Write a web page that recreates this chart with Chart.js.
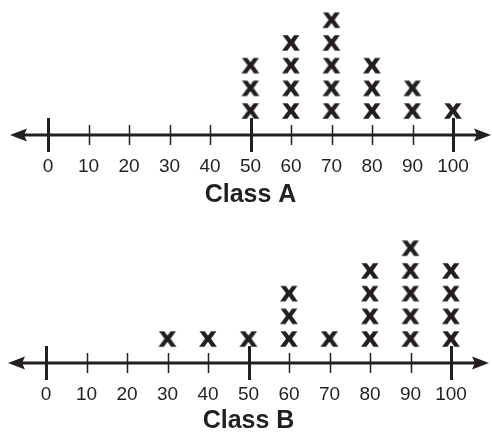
<!DOCTYPE html>
<html>
<head>
<meta charset="utf-8">
<script src="https://cdn.jsdelivr.net/npm/chart.js@4.4.1/dist/chart.umd.min.js"></script>
<style>
  html, body { margin: 0; padding: 0; background: #fff; }
  canvas { display: block; }
</style>
</head>
<body>
<canvas id="chartA" width="492" height="216"></canvas>
<canvas id="chartB" width="492" height="216"></canvas>
<script>
// tick labels on the number line
const scoreTicks = [0, 10, 20, 30, 40, 50, 60, 70, 80, 90, 100];
const majorTicks = [0, 50, 100];

// Class A: score -> number of X marks
const classAScores = [50, 60, 70, 80, 90, 100];
const classACounts = [3, 4, 5, 3, 2, 1];

// Class B
const classBScores = [30, 40, 50, 60, 70, 80, 90, 100];
const classBCounts = [1, 1, 1, 3, 1, 4, 5, 4];

const INK = '#231f20';
const ROW = 22.7; // px between stacked marks

// the "X" mark used as point style
const xMark = document.createElement('canvas');
xMark.width = 24;
xMark.height = 24;
(function() {
  const c = xMark.getContext('2d');
  c.fillStyle = INK;
  c.strokeStyle = INK;
  c.lineWidth = 1.4;
  c.lineJoin = 'miter';
  c.font = 'bold 21px "Liberation Sans", Arial, sans-serif';
  c.textAlign = 'center';
  c.textBaseline = 'alphabetic';
  c.translate(12, 0);
  c.scale(1.1, 1);
  c.fillText('X', 0, 19.5);
  c.strokeText('X', 0, 19.5);
})();

// stack one point per student
function buildPoints(scores, counts) {
  const pts = [];
  scores.forEach((s, i) => {
    for (let k = 1; k <= counts[i]; k++) pts.push({ x: s, y: k });
  });
  return pts;
}

// number line: axis with arrows and ticks crossing it
const numberLine = {
  id: 'numberLine',
  beforeDatasetsDraw(chart) {
    const ctx = chart.ctx;
    const xs = chart.scales.x;
    const y = chart.chartArea.bottom;
    const left = xs.getPixelForValue(0) - 38;
    const right = xs.getPixelForValue(100) + 38;
    ctx.save();
    ctx.strokeStyle = INK;
    ctx.fillStyle = INK;
    ctx.lineWidth = 3;
    ctx.beginPath();
    ctx.moveTo(left + 10, y);
    ctx.lineTo(right - 10, y);
    ctx.stroke();
    // arrow heads
    ctx.beginPath();
    ctx.moveTo(left, y);
    ctx.lineTo(left + 17, y - 6.5);
    ctx.lineTo(left + 14, y);
    ctx.lineTo(left + 17, y + 6.5);
    ctx.closePath();
    ctx.fill();
    ctx.beginPath();
    ctx.moveTo(right, y);
    ctx.lineTo(right - 17, y - 6.5);
    ctx.lineTo(right - 14, y);
    ctx.lineTo(right - 17, y + 6.5);
    ctx.closePath();
    ctx.fill();
    // ticks
    scoreTicks.forEach(t => {
      const px = Math.round(xs.getPixelForValue(t)) + 0.5;
      const major = majorTicks.includes(t);
      ctx.lineWidth = major ? 3 : 1.5;
      ctx.beginPath();
      ctx.moveTo(px, y - (major ? 17 : 10));
      ctx.lineTo(px, y + (major ? 17 : 10));
      ctx.stroke();
    });
    ctx.restore();
  }
};

function makeChart(id, scores, counts, title, padLeft, padRight, axisY, titlePad) {
  return new Chart(document.getElementById(id), {
    type: 'scatter',
    data: {
      datasets: [{
        data: buildPoints(scores, counts),
        pointStyle: xMark,
        pointRadius: 12,
        pointHoverRadius: 12,
        clip: false
      }]
    },
    options: {
      responsive: false,
      animation: false,
      devicePixelRatio: 1,
      layout: { autoPadding: false, padding: { left: padLeft, right: padRight, top: 0, bottom: 0 } },
      plugins: { legend: { display: false }, tooltip: { enabled: false } },
      scales: {
        x: {
          type: 'linear',
          min: 0,
          max: 100,
          afterBuildTicks(scale) {
            scale.ticks = scoreTicks.map(v => ({ value: v }));
          },
          afterFit(scale) { scale.height = 216 - axisY; },
          border: { display: false },
          grid: { display: false, drawTicks: false },
          ticks: {
            color: INK,
            padding: 20,
            maxRotation: 0,
            autoSkip: false,
            font: { family: '"Liberation Sans", Arial, sans-serif', size: 19 }
          },
          title: {
            display: true,
            text: title,
            color: INK,
            padding: { top: 0, bottom: titlePad },
            font: { family: '"Liberation Sans", Arial, sans-serif', size: 25, weight: 'bold', lineHeight: 1 }
          }
        },
        y: {
          display: false,
          min: -0.1,
          max: axisY / ROW - 0.1
        }
      }
    },
    plugins: [numberLine]
  });
}

makeChart('chartA', classAScores, classACounts, 'Class A', 48, 39, 135, 8);
makeChart('chartB', classBScores, classBCounts, 'Class B', 46, 41, 147, -2);
</script>
</body>
</html>
